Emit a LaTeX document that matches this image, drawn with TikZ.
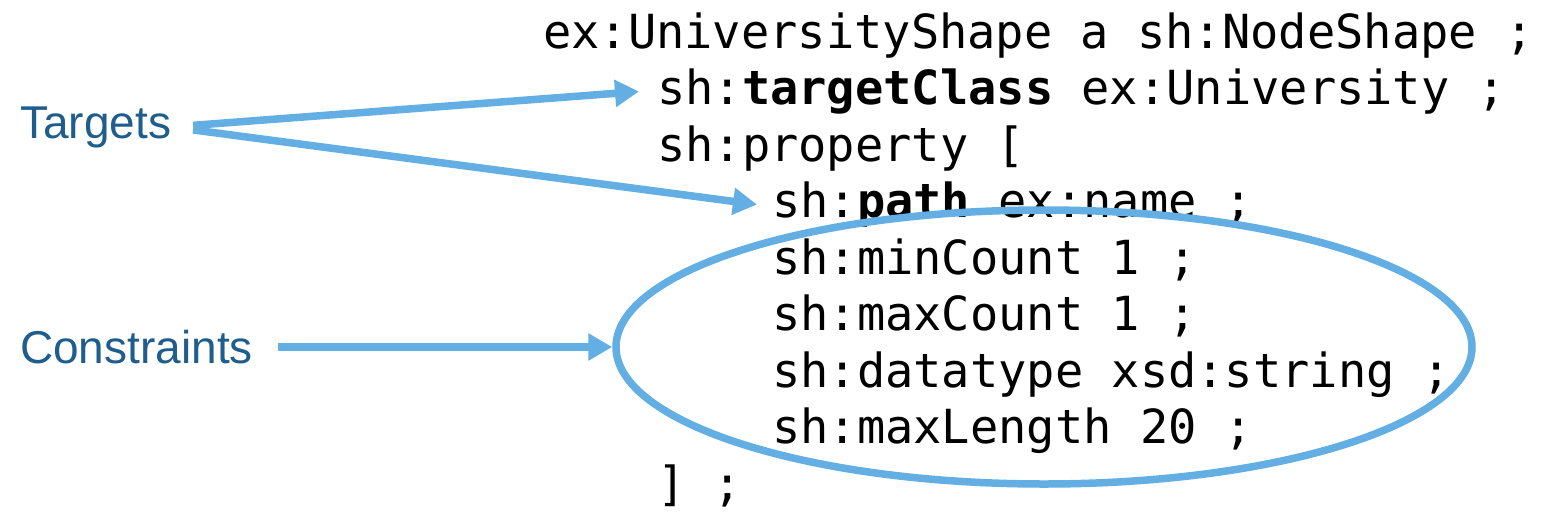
\documentclass[tikz,border=0pt]{standalone}
\usepackage{fontspec}
\setmonofont{DejaVu Sans Mono}
\setsansfont{Liberation Sans}
\usetikzlibrary{shapes.geometric,arrows.meta}
\definecolor{pfeil}{RGB}{99,174,226}
\definecolor{etikett}{RGB}{30,93,140}
\begin{document}
\begin{tikzpicture}[x=1pt,y=-1pt,>={Triangle[length=24pt,width=26pt]},
  code/.style={anchor=base west,inner sep=0pt,font=\ttfamily\fontsize{47}{57}\selectfont},
  etikett/.style={anchor=west,inner sep=0pt,text=etikett,font=\sffamily\fontsize{46}{55}\selectfont},
  pfeil/.style={->,draw=pfeil,line width=7.5pt}]
\useasboundingbox (0,0) rectangle (1543,515);
\def\zeile#1#2#3#4{\node[code] (#1) at (#2,#3) {#4};}
\zeile{l1}{543}{48}{ex:UniversityShape a sh:NodeShape ;}
\zeile{l2}{657}{104.5}{sh:\textbf{targetClass} ex:University ;}
\zeile{l3}{657}{161}{sh:property [}
\zeile{l4}{772}{217.5}{sh:\textbf{path} ex:name ;}
\zeile{l5}{772}{274}{sh:minCount 1 ;}
\zeile{l6}{772}{330.5}{sh:maxCount 1 ;}
\zeile{l7}{772}{387}{sh:datatype xsd:string ;}
\zeile{l8}{772}{443.5}{sh:maxLength 20 ;}
\zeile{l9}{657}{500}{] ;}
% Beschriftungen links
\node[etikett] (tg) at (20,127) {Targets};
\node[etikett] (cs) at (20,347) {Constraints};
% Ellipse um die Constraints
\node[draw=pfeil,line width=7.5pt,ellipse,inner sep=0pt,minimum width=856pt,minimum height=274pt] (el) at (1044,347) {};
\draw[pfeil,shorten <=22pt] (tg.east) -- ([xshift=-18pt]l2.west);
\draw[pfeil,shorten <=22pt] (tg.east) -- ([xshift=-15pt]l4.west);
\draw[pfeil,shorten <=25pt] (cs.east) -- (el.west);
\end{tikzpicture}
\end{document}
